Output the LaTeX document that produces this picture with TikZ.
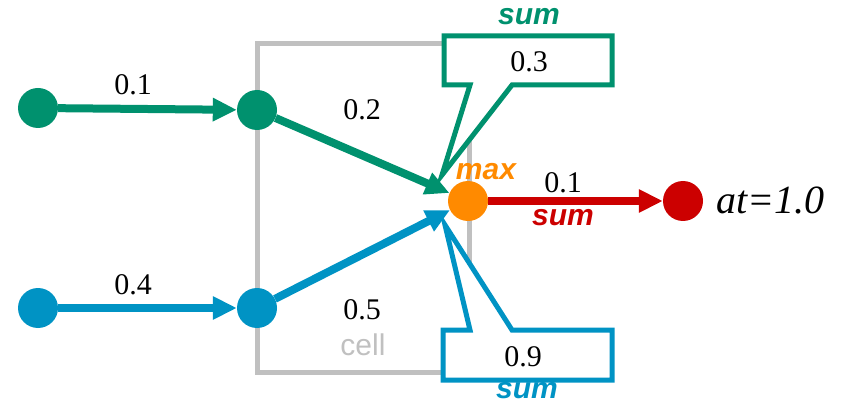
\documentclass[tikz,border=0pt]{standalone}
\usepackage{fontspec}
\setmainfont{Liberation Serif}
\setsansfont{Liberation Sans}
\usetikzlibrary{arrows.meta}
\definecolor{cgreen}{RGB}{0,145,110}
\definecolor{cblue}{RGB}{0,147,196}
\definecolor{corange}{RGB}{255,138,0}
\definecolor{cred}{RGB}{204,0,0}
\definecolor{cgray}{RGB}{192,192,192}
\tikzset{
  dot/.style={circle,fill=#1,minimum size=40pt,inner sep=0pt,draw=none},
  wlabel/.style={font=\fontsize{30}{36}\selectfont,inner sep=0pt},
  slabel/.style={font=\fontsize{30}{36}\selectfont\sffamily\bfseries\itshape,text=#1,inner sep=0pt},
  conn/.style={draw=#1,line width=8pt,-{Triangle[length=24pt,width=22pt]}},
  callout/.style={draw=#1,fill=white,line width=5pt,line join=miter},
}
\begin{document}
\begin{tikzpicture}[x=1pt,y=-1pt]
\useasboundingbox (0,0) rectangle (841,406);
% cell box
\draw[cgray,line width=5pt] (257,44) rectangle (469,372);
\node[font=\fontsize{30}{36}\selectfont\sffamily,text=cgray,inner sep=0pt] (cell) at (363,345) {cell};
% callouts
\coordinate (tg) at (442,175);
\coordinate (tb) at (445,225);
\draw[callout=cgreen] (444,36) -- (612,36) -- (612,85) -- (512,85) -- (tg) -- (470,85) -- (444,85) -- cycle;
\draw[callout=cblue] (443,380) -- (612,380) -- (612,330) -- (512,330) -- (tb) -- (470,330) -- (443,330) -- cycle;
\node[wlabel] (w3) at (529,62) {0.3};
\node[slabel=cgreen] (s1) at (529,17) {sum};
\node[wlabel] (w9) at (523,357) {0.9};
\node[slabel=cblue] (s3) at (527,391) {sum};
% nodes
\node[dot=cgreen] (g1) at (38,108) {};
\node[dot=cgreen] (g2) at (257,110) {};
\node[dot=cblue] (b1) at (38,308) {};
\node[dot=cblue] (b2) at (257,308) {};
\node[dot=corange] (o) at (468,201) {};
\node[dot=cred] (r) at (683,201) {};
% connectors
\draw[conn=cgreen] (g1) -- (g2);
\draw[conn=cblue] (b1) -- (b2);
\draw[conn=cgreen] (g2) -- (o);
\draw[conn=cblue] (b2) -- (o);
\draw[conn=cred] (o) -- (r);
% labels
\node[wlabel] (l1) at (133,85) {0.1};
\node[wlabel] (l4) at (133,285) {0.4};
\node[wlabel] (l2) at (362,110) {0.2};
\node[wlabel] (l5) at (362,310) {0.5};
\node[wlabel] (l7) at (563,183) {0.1};
\node[slabel=corange] (mx) at (486,172) {max};
\node[slabel=cred] (s2) at (563,218) {sum};
\node[font=\fontsize{40}{48}\selectfont\itshape,inner sep=0pt,anchor=west] (at) at (716,200) {at=1.0};
\end{tikzpicture}
\end{document}
